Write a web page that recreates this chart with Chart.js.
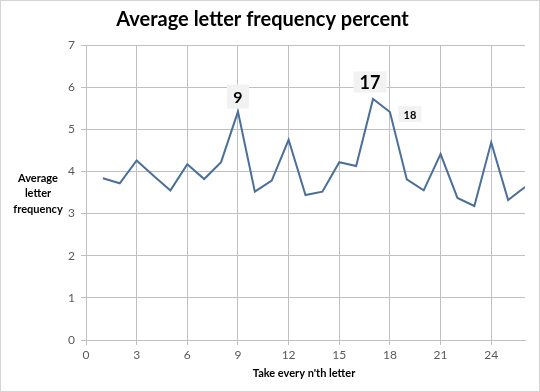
<!DOCTYPE html>
<html>
<head>
<meta charset="utf-8">
<script src="https://cdn.jsdelivr.net/npm/chart.js@4.4.1/dist/chart.umd.min.js"></script>
<style>
  html, body { margin: 0; padding: 0; background: #fff; }
  #wrap { width: 540px; height: 392px; }
</style>
</head>
<body>
<div id="wrap"><canvas id="c" width="540" height="392"></canvas></div>
<script>
const titleText = "Average letter frequency percent";
const xAxisTitle = "Take every n'th letter";
const yAxisTitle = ["Average", "letter", "frequency"];
const nValues = [1,2,3,4,5,6,7,8,9,10,11,12,13,14,15,16,17,18,19,20,21,22,23,24,25,26];
const freqValues = [3.84,3.72,4.26,3.90,3.55,4.17,3.82,4.22,5.42,3.52,3.78,4.75,3.44,3.52,4.22,4.13,5.72,5.41,3.81,3.55,4.41,3.37,3.18,4.69,3.32,3.63];
const xTicks = [0,3,6,9,12,15,18,21,24];
const yTicks = [0,1,2,3,4,5,6,7];
const labeledPoints = [9, 17, 18];

const FONT = "Lato, 'Open Sans', sans-serif";
const gridColor = "#c0c0c0";

const decor = {
  id: 'decor',
  afterDraw(chart) {
    const ctx = chart.ctx;
    ctx.save();
    // outer frame
    ctx.strokeStyle = "#d4d4d4";
    ctx.lineWidth = 1;
    ctx.strokeRect(0.5, 0.5, chart.width - 1, chart.height - 1);
    // y axis title (horizontal, multi-line)
    ctx.fillStyle = "#000";
    ctx.font = "bold 11px " + FONT;
    ctx.textAlign = "center";
    ctx.textBaseline = "middle";
    yAxisTitle.forEach((t, i) => ctx.fillText(t, 38, 178 + i * 15.5));
    // x axis title
    ctx.fillText(xAxisTitle, 304, 373);
    // data labels
    const meta = chart.getDatasetMeta(0);
    const conf = {9: {dx: 0, dy: -15, size: 16, w: 22, h: 24},
                  17: {dx: -3, dy: -17, size: 18, w: 33, h: 21},
                  18: {dx: 20, dy: 2, size: 11, w: 23, h: 16}};
    labeledPoints.forEach(n => {
      const idx = nValues.indexOf(n);
      const el = meta.data[idx];
      const c = conf[n];
      const cx = el.x + c.dx, cy = el.y + c.dy;
      ctx.fillStyle = "#f2f2f2";
      ctx.fillRect(cx - c.w / 2, cy - c.h / 2, c.w, c.h);
      ctx.fillStyle = "#000";
      ctx.font = "bold " + c.size + "px " + FONT;
      ctx.fillText(String(n), cx, cy + 1);
    });
    ctx.restore();
  }
};

new Chart(document.getElementById('c'), {
  type: 'line',
  data: {
    datasets: [{
      data: nValues.map((n, i) => ({x: n, y: freqValues[i]})),
      borderColor: "#4a6f98",
      borderWidth: 2,
      pointRadius: 0,
      tension: 0,
      fill: false
    }]
  },
  options: {
    responsive: false,
    animation: false,
    layout: { padding: { left: 0, right: 15, top: 0, bottom: 0 } },
    plugins: {
      legend: { display: false },
      tooltip: { enabled: false },
      title: {
        display: true,
        text: titleText,
        color: "#000",
        font: { family: FONT, size: 20, weight: 'bold' },
        padding: { top: 8, bottom: 13 }
      }
    },
    scales: {
      x: {
        type: 'linear',
        min: 0, max: 26,
        afterBuildTicks: s => { s.ticks = xTicks.map(v => ({value: v})); },
        afterFit: s => { s.height = 52; },
        grid: { color: gridColor, tickLength: 5, drawTicks: true },
        border: { display: true, color: gridColor },
        ticks: { color: "#595959", font: { family: FONT, size: 12 }, padding: 3, maxRotation: 0, autoSkip: false }
      },
      y: {
        type: 'linear',
        min: 0, max: 7,
        afterBuildTicks: s => { s.ticks = yTicks.map(v => ({value: v})); },
        afterFit: s => { s.width = 86; },
        grid: { color: gridColor, tickLength: 5, drawTicks: true },
        border: { display: true, color: gridColor },
        ticks: { color: "#595959", font: { family: FONT, size: 12 }, padding: 6 }
      }
    }
  },
  plugins: [decor]
});
</script>
</body>
</html>
